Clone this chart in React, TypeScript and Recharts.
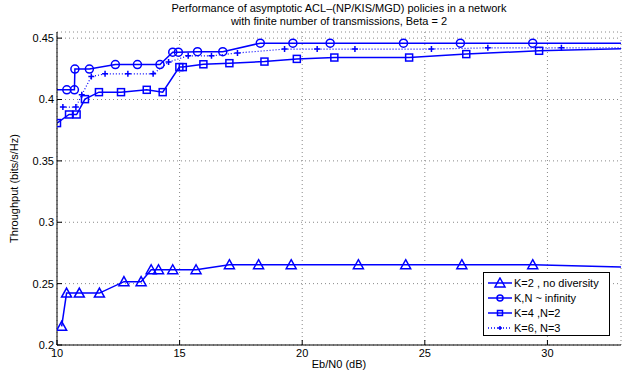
import React from "react";
import { LineChart, Line, XAxis, YAxis, CartesianGrid, Legend } from "recharts";

// K=2, no diversity (triangles)
const triX = [10.19, 10.39, 10.91, 11.73, 12.73, 13.43, 13.84, 14.14, 14.72, 15.67, 17.03, 18.22, 19.55, 22.29, 24.22, 26.51, 29.4, 34];
const triY = [0.2152, 0.2423, 0.2423, 0.2423, 0.2516, 0.2516, 0.2613, 0.2613, 0.2613, 0.2613, 0.2654, 0.2654, 0.2654, 0.2654, 0.2654, 0.2654, 0.2654, 0.263];

// K,N ~ infinity (circles)
const cirX = [9.6, 10.4, 10.71, 10.73, 11.32, 12.38, 13.28, 14.2, 14.72, 14.95, 15.73, 16.76, 18.29, 19.62, 21.14, 24.13, 26.45, 29.4, 34];
const cirY = [0.4079, 0.4079, 0.4079, 0.4248, 0.4248, 0.4285, 0.4285, 0.4285, 0.4386, 0.4386, 0.439, 0.439, 0.4459, 0.4459, 0.4459, 0.4459, 0.4459, 0.4459, 0.4459];

// K=4, N=2 (squares)
const sqX = [10.0, 10.49, 10.8, 11.14, 11.71, 12.61, 13.66, 14.31, 14.99, 15.13, 15.97, 17.03, 18.46, 19.78, 21.31, 24.36, 26.69, 29.66, 34];
const sqY = [0.3808, 0.3878, 0.3878, 0.4003, 0.406, 0.406, 0.4079, 0.406, 0.4264, 0.4264, 0.4287, 0.4296, 0.4309, 0.4331, 0.4342, 0.4342, 0.437, 0.4397, 0.4418];

// K=6, N=3 (plus, dotted)
const plX = [10.24, 10.77, 11.01, 11.4, 11.96, 12.89, 13.92, 14.55, 15.35, 16.3, 17.36, 19.28, 20.61, 22.15, 25.27, 27.57, 30.57, 34];
const plY = [0.3938, 0.3938, 0.4038, 0.4187, 0.4209, 0.4209, 0.4209, 0.4305, 0.4356, 0.4356, 0.4379, 0.4411, 0.4411, 0.4411, 0.4411, 0.4421, 0.4421, 0.4422];

const xTicks = [10, 15, 20, 25, 30];
const yTicks = [0.2, 0.25, 0.3, 0.35, 0.4, 0.45];

const zip = (xs: number[], ys: number[]) => xs.map((x, i) => ({ x, y: ys[i] }));

const BLUE = "#0000ff";
const FONT = "'Liberation Sans', Arial, sans-serif";

const Tri = (p: any) => {
  const { cx, cy } = p;
  if (cx == null || cy == null) return null;
  return <path key={p.index} d={`M${cx},${cy - 5} L${cx + 5},${cy + 4} L${cx - 5},${cy + 4} Z`} fill="none" stroke={BLUE} strokeWidth={1.5} />;
};
const Cir = (p: any) => {
  const { cx, cy } = p;
  if (cx == null || cy == null) return null;
  return <circle key={p.index} cx={cx} cy={cy} r={4} fill="none" stroke={BLUE} strokeWidth={1.5} />;
};
const Sq = (p: any) => {
  const { cx, cy } = p;
  if (cx == null || cy == null) return null;
  return <rect key={p.index} x={cx - 3.5} y={cy - 3.5} width={7} height={7} fill="none" stroke={BLUE} strokeWidth={1.5} />;
};
const Plus = (p: any) => {
  const { cx, cy } = p;
  if (cx == null || cy == null) return null;
  return <path key={p.index} d={`M${cx - 3},${cy} L${cx + 3},${cy} M${cx},${cy - 3} L${cx},${cy + 3}`} stroke={BLUE} strokeWidth={1.5} />;
};

const legendItems = [
  { name: "K=2 , no diversity", mark: "tri", dash: undefined },
  { name: "K,N ~ infinity", mark: "cir", dash: undefined },
  { name: "K=4 ,N=2", mark: "sq", dash: undefined },
  { name: "K=6, N=3", mark: "plus", dash: "1 2" },
];

const LegendBox = () => (
  <div style={{ border: "1px solid #000", background: "#fff", width: 127, height: 64, boxSizing: "border-box", padding: "2px 0 0 3px", fontFamily: FONT, fontSize: 11 }}>
    {legendItems.map((it) => (
      <div key={it.name} style={{ display: "flex", alignItems: "center", height: 15 }}>
        <svg width={26} height={12}>
          <line x1={1} y1={6} x2={25} y2={6} stroke={BLUE} strokeWidth={1.5} strokeDasharray={it.dash} />
          {it.mark === "tri" && <path d="M13,1 L18,10 L8,10 Z" fill="none" stroke={BLUE} strokeWidth={1.5} />}
          {it.mark === "cir" && <circle cx={13} cy={6} r={3} fill="none" stroke={BLUE} strokeWidth={1.5} />}
          {it.mark === "sq" && <rect x={10.5} y={3.5} width={5} height={5} fill="none" stroke={BLUE} strokeWidth={1.5} />}
          {it.mark === "plus" && <path d="M11,6 L15,6 M13,4 L13,8" stroke={BLUE} strokeWidth={1.5} />}
        </svg>
        <span style={{ marginLeft: 1 }}>{it.name}</span>
      </div>
    ))}
  </div>
);

const noTick = () => <g />;

export default function App() {
  const tickStyle = { fontSize: 11, fill: "#000", fontFamily: FONT };
  return (
    <div style={{ position: "absolute", left: 0, top: 0, width: 631, height: 376, background: "#fff" }}>
      <div style={{ position: "absolute", left: 57, width: 564, top: 2, textAlign: "center", fontFamily: FONT, fontSize: 11, lineHeight: "13px", color: "#000" }}>
        Performance of asymptotic ACL–(NP/KIS/MGD) policies in a network
        <br />
        with finite number of transmissions, Beta = 2
      </div>
      <LineChart width={631} height={376} margin={{ top: 32, right: 10, bottom: 0, left: 0 }}>
        <CartesianGrid stroke="#888" strokeDasharray="1 3" xAxisId="b" yAxisId="l" />
        <XAxis
          xAxisId="b"
          dataKey="x"
          type="number"
          domain={[10, 33]}
          allowDataOverflow
          ticks={xTicks}
          height={31}
          tickSize={-5}
          tickMargin={9}
          tick={tickStyle}
          stroke="#000"
          label={{ value: "Eb/N0 (dB)", position: "insideBottom", offset: 8, style: { fontSize: 11, fill: "#000", fontFamily: FONT } }}
        />
        <XAxis xAxisId="t" orientation="top" dataKey="x" type="number" domain={[10, 33]} allowDataOverflow ticks={xTicks} height={0} tickSize={-5} tick={noTick} stroke="#000" />
        <YAxis
          yAxisId="l"
          type="number"
          domain={[0.2, 0.455]}
          allowDataOverflow
          ticks={yTicks}
          width={57}
          tickSize={-5}
          tickMargin={8}
          tick={tickStyle}
          stroke="#000"
          label={{ value: "Throughput (bits/s/Hz)", angle: -90, position: "insideLeft", offset: 14, style: { textAnchor: "middle", fontSize: 11, fill: "#000", fontFamily: FONT } }}
        />
        <YAxis yAxisId="r" orientation="right" type="number" domain={[0.2, 0.455]} allowDataOverflow ticks={yTicks} width={0} tickSize={-5} tick={noTick} stroke="#000" />
        <Legend
          layout="vertical"
          align="center"
          verticalAlign="middle"
          content={() => <LegendBox />}
          wrapperStyle={{ left: 483, top: 272, width: 127, height: 64 }}
        />
        <Line xAxisId="b" yAxisId="l" data={zip(triX, triY)} dataKey="y" name="K=2 , no diversity" stroke={BLUE} strokeWidth={1.5} dot={Tri} isAnimationActive={false} />
        <Line xAxisId="b" yAxisId="l" data={zip(cirX, cirY)} dataKey="y" name="K,N ~ infinity" stroke={BLUE} strokeWidth={1.5} dot={Cir} isAnimationActive={false} />
        <Line xAxisId="b" yAxisId="l" data={zip(sqX, sqY)} dataKey="y" name="K=4 ,N=2" stroke={BLUE} strokeWidth={1.5} dot={Sq} isAnimationActive={false} />
        <Line xAxisId="b" yAxisId="l" data={zip(plX, plY)} dataKey="y" name="K=6, N=3" stroke={BLUE} strokeWidth={1.2} strokeDasharray="1 2" dot={Plus} isAnimationActive={false} />
      </LineChart>
    </div>
  );
}
